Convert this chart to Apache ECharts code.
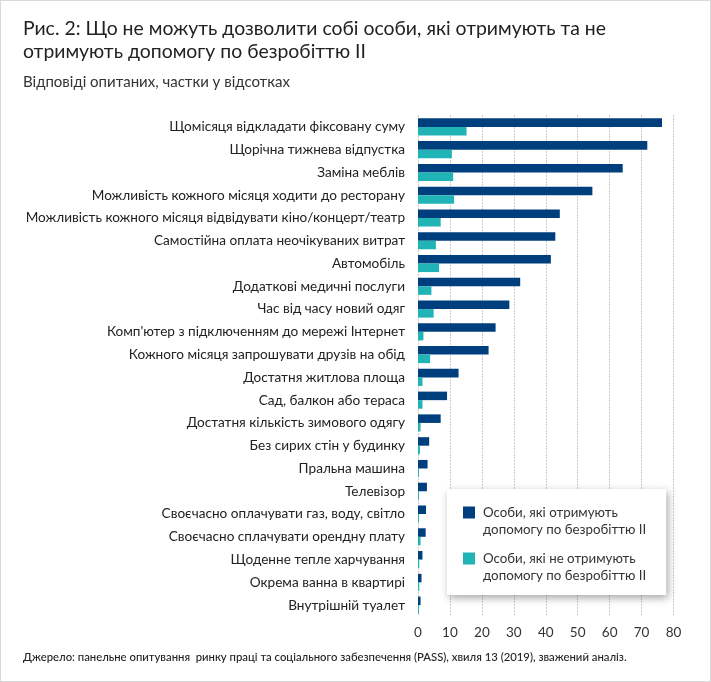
<!DOCTYPE html>
<html>
<head>
<meta charset="utf-8">
<script src="https://cdn.jsdelivr.net/npm/echarts@6/dist/echarts.min.js"></script>
<style>
  html, body { margin: 0; padding: 0; background: #fff; }
  #c { position: absolute; left: 0; top: 0; width: 711px; height: 682px; }
  #frame { position: absolute; left: 0; top: 0; width: 711px; height: 682px; box-sizing: border-box; border: 1px solid #d9d9d9; pointer-events: none; }
</style>
</head>
<body>
<div id="c"></div>
<div id="frame"></div>
<script>
const categories = [
  'Щомісяця відкладати фіксовану суму',
  'Щорічна тижнева відпустка',
  'Заміна меблів',
  'Можливість кожного місяця ходити до ресторану',
  'Можливість кожного місяця відвідувати кіно/концерт/театр',
  'Самостійна оплата неочікуваних витрат',
  'Автомобіль',
  'Додаткові медичні послуги',
  'Час від часу новий одяг',
  "Комп'ютер з підключенням до мережі Інтернет",
  'Кожного місяця запрошувати друзів на обід',
  'Достатня житлова площа',
  'Сад, балкон або тераса',
  'Достатня кількість зимового одягу',
  'Без сирих стін у будинку',
  'Пральна машина',
  'Телевізор',
  'Своєчасно оплачувати газ, воду, світло',
  'Своєчасно сплачувати орендну плату',
  'Щоденне тепле харчування',
  'Окрема ванна в квартирі',
  'Внутрішній туалет'
];
const receiving = [76.4, 71.8, 64.1, 54.6, 44.4, 43.0, 41.6, 32.0, 28.6, 24.3, 22.1, 12.7, 9.1, 7.1, 3.5, 3.0, 2.8, 2.5, 2.4, 1.4, 1.1, 0.8];
const notReceiving = [15.2, 10.6, 11.0, 11.3, 7.1, 5.6, 6.6, 4.2, 4.9, 1.7, 3.8, 1.4, 1.4, 0.8, 0.6, 0.3, 0.3, 0.3, 0.8, 0.4, 0.4, 0.3];
const seriesNames = [
  'Особи, які отримують допомогу по безробіттю II',
  'Особи, які не отримують допомогу по безробіттю II'
];
const legendLines = {
  'Особи, які отримують допомогу по безробіттю II': 'Особи, які отримують\nдопомогу по безробіттю II',
  'Особи, які не отримують допомогу по безробіттю II': 'Особи, які не отримують\nдопомогу по безробіттю II'
};
const xTicks = { min: 0, max: 80, interval: 10 };
const titleText = 'Рис. 2: Що не можуть дозволити собі особи, які отримують та не\nотримують допомогу по безробіттю II';
const subtitleText = 'Відповіді опитаних, частки у відсотках';
const sourceText = 'Джерело: панельне опитування  ринку праці та соціального забезпечення (PASS), хвиля 13 (2019), зважений аналіз.';

const FONT = 'Lato, "Noto Sans", sans-serif';
const DARK = '#003f7d';
const TEAL = '#20b4b6';

const chart = echarts.init(document.getElementById('c'), null, { renderer: 'canvas' });
chart.setOption({
  animation: false,
  backgroundColor: '#ffffff',
  textStyle: { fontFamily: FONT },
  title: [
    {
      text: titleText,
      subtext: subtitleText,
      left: 18,
      top: 12,
      itemGap: 10,
      textStyle: { fontFamily: FONT, fontSize: 19.4, lineHeight: 23, fontWeight: 'normal', color: '#222' },
      subtextStyle: { fontFamily: FONT, fontSize: 15, lineHeight: 18, color: '#333' }
    },
    {
      text: sourceText,
      left: 18,
      top: 645,
      textStyle: { fontFamily: FONT, fontSize: 11.3, lineHeight: 14, fontWeight: 500, color: '#222' }
    }
  ],
  legend: {
    orient: 'vertical',
    left: 447,
    top: 489,
    padding: [15, 20, 11, 16],
    itemGap: 12,
    itemWidth: 12,
    itemHeight: 29,
    icon: 'path://M0,0h12v12h-12zM0,29',
    backgroundColor: '#ffffff',
    shadowBlur: 8,
    shadowColor: 'rgba(0,0,0,0.35)',
    shadowOffsetX: 2,
    shadowOffsetY: 3,
    formatter: name => legendLines[name],
    textStyle: { fontFamily: FONT, fontSize: 13.3, lineHeight: 17, color: '#333', padding: [0, 0, 0, 3] },
    data: seriesNames
  },
  grid: { left: 418, right: 37.5, top: 115.5, bottom: 65.5, containLabel: false },
  xAxis: {
    type: 'value',
    min: xTicks.min,
    max: xTicks.max,
    interval: xTicks.interval,
    axisLine: { show: false },
    axisTick: { show: false },
    axisLabel: { fontFamily: FONT, fontSize: 13.5, color: '#333', margin: 9 },
    splitLine: { show: true, lineStyle: { color: '#999999', width: 1, type: [1, 2] } }
  },
  yAxis: {
    type: 'category',
    data: categories,
    inverse: true,
    axisLine: { show: false },
    axisTick: { show: false },
    axisLabel: { fontFamily: FONT, fontSize: 13.6, color: '#222', margin: 13 }
  },
  series: [
    {
      name: seriesNames[0],
      type: 'bar',
      data: receiving,
      barCategoryGap: '25%',
      barGap: '0%',
      itemStyle: { color: DARK }
    },
    {
      name: seriesNames[1],
      type: 'bar',
      data: notReceiving,
      barCategoryGap: '25%',
      barGap: '0%',
      itemStyle: { color: TEAL }
    }
  ]
});
</script>
</body>
</html>
